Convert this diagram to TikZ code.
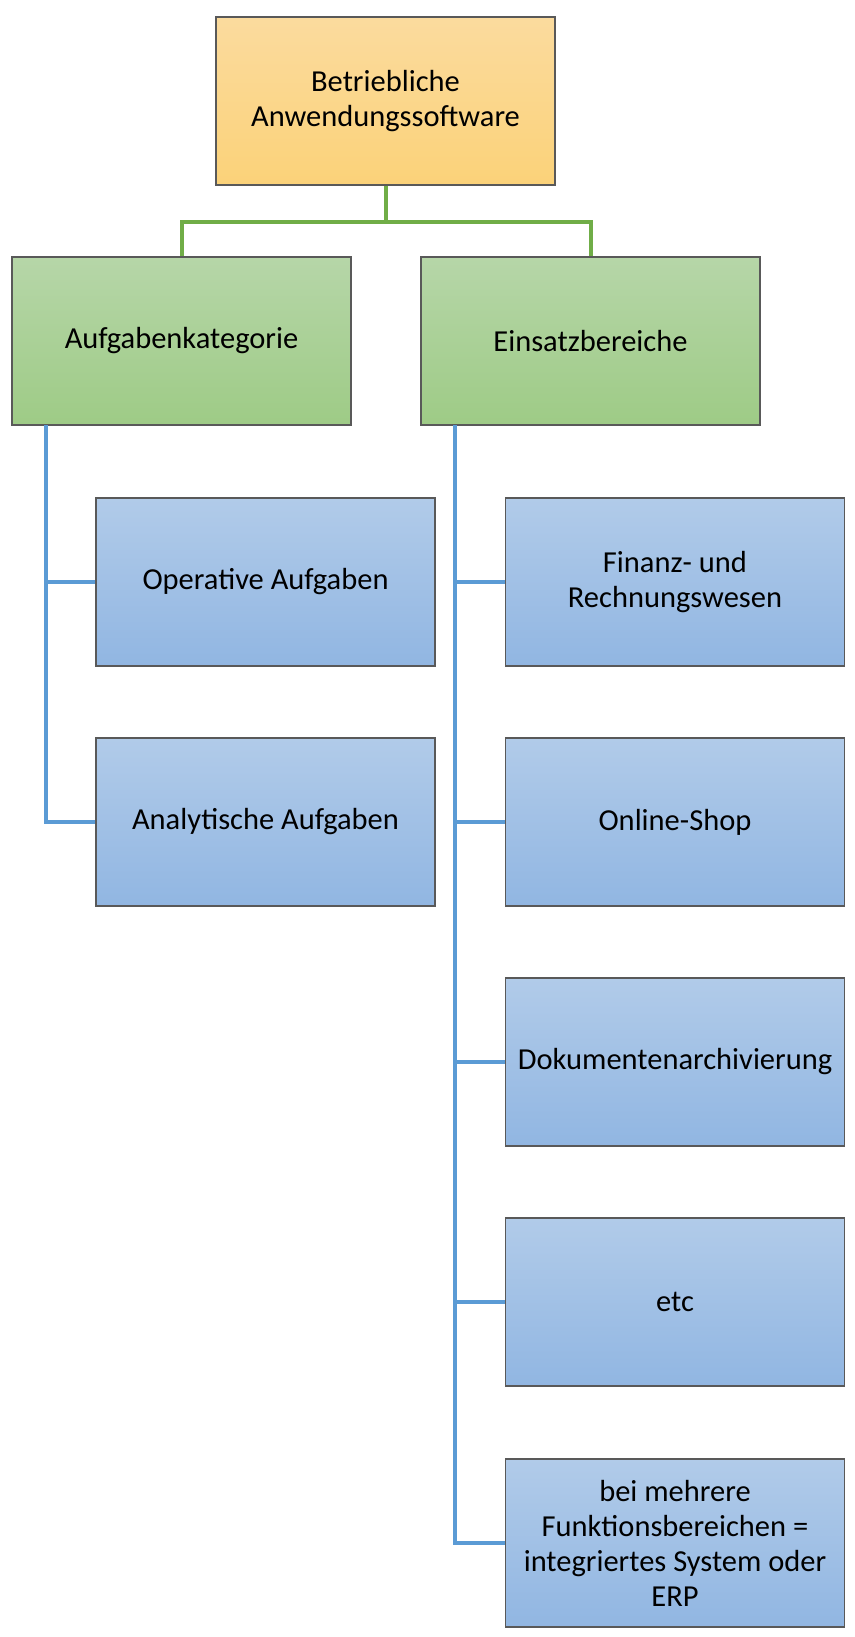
\documentclass[tikz,border=0pt]{standalone}
\usepackage{fontspec}
\setmainfont{Carlito}
\usepackage{tikz}
\definecolor{orangetop}{RGB}{251,219,158}
\definecolor{orangebot}{RGB}{251,210,121}
\definecolor{greentop}{RGB}{182,214,168}
\definecolor{greenbot}{RGB}{158,203,134}
\definecolor{bluetop}{RGB}{177,203,233}
\definecolor{bluebot}{RGB}{145,182,226}
\definecolor{greenline}{RGB}{112,173,71}
\definecolor{blueline}{RGB}{91,155,213}

\begin{document}
\begin{tikzpicture}[x=1pt, y=-1pt, line join=miter]
	\tikzstyle{box}=[rectangle, draw=black!65, line width=1.5pt, minimum width=339pt, minimum height=168pt, inner sep=0pt, align=center, font=\fontsize{30.5}{35}\selectfont]
	\tikzstyle{rootbox}=[box, top color=orangetop, bottom color=orangebot]
	\tikzstyle{catbox}=[box, top color=greentop, bottom color=greenbot]
	\tikzstyle{itembox}=[box, top color=bluetop, bottom color=bluebot]
	\tikzstyle{greenlink}=[draw=greenline, line width=4pt]
	\tikzstyle{bluelink}=[draw=blueline, line width=4pt]

	\useasboundingbox (0,0) rectangle (854,1637);

	% Draw boxes
	\node[rootbox] (root) at (385.5,101) {Betriebliche\\Anwendungssoftware};
	\node[catbox] (aufgaben) at (181.5,341) {Aufgabenkategorie};
	\node[catbox] (einsatz) at (590.5,341) {Einsatzbereiche};
	\node[itembox] (operativ) at (265.5,582) {Operative Aufgaben};
	\node[itembox] (analytisch) at (265.5,822) {Analytische Aufgaben};
	\node[itembox] (finanz) at (675,582) {Finanz- und\\Rechnungswesen};
	\node[itembox] (shop) at (675,822) {Online-Shop};
	\node[itembox] (archiv) at (675,1062) {Dokumentenarchivierung};
	\node[itembox] (etc) at (675,1302) {etc};
	\node[itembox] (erp) at (675,1543) {bei mehrere\\Funktionsbereichen =\\integriertes System oder\\ERP};

	% Draw connectors
	\coordinate (fork) at (385.5,222);
	\coordinate (leftrail) at (46,425);
	\coordinate (rightrail) at (455,425);
	\path[greenlink] (root.south) -- (fork) -| (aufgaben.north);
	\path[greenlink] (fork) -| (einsatz.north);
	\path[bluelink] (leftrail) |- (analytisch.west);
	\path[bluelink] (leftrail) |- (operativ.west);
	\path[bluelink] (rightrail) |- (erp.west);
	\path[bluelink] (rightrail) |- (finanz.west);
	\path[bluelink] (rightrail) |- (shop.west);
	\path[bluelink] (rightrail) |- (archiv.west);
	\path[bluelink] (rightrail) |- (etc.west);

\end{tikzpicture}
\end{document}
